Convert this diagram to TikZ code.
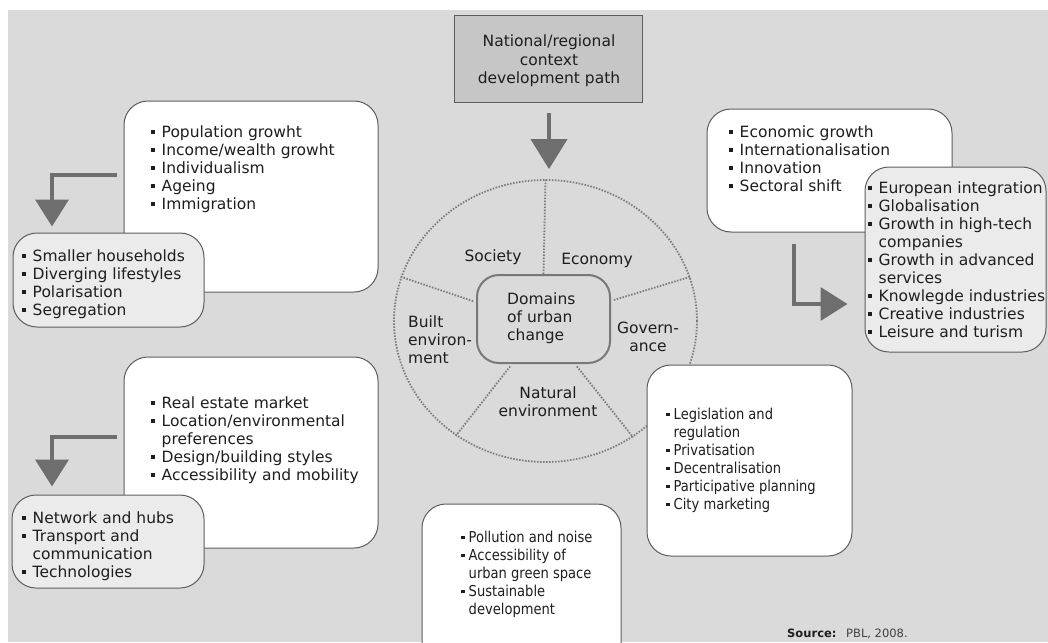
\documentclass[tikz,border=0pt]{standalone}
\usepackage{fontspec}
\setmainfont{DejaVu Sans}
\newfontfamily\condf[FakeStretch=0.97]{DejaVu Sans Condensed}
\usetikzlibrary{arrows.meta,shapes.geometric,calc}
\definecolor{bgc}{HTML}{DADADA}
\definecolor{boxline}{HTML}{5E5E5E}
\definecolor{gfill}{HTML}{EBEBEB}
\definecolor{cfill}{HTML}{C6C6C6}
\definecolor{arrc}{HTML}{6E6E6E}
\definecolor{dotc}{HTML}{7A7A7A}
\definecolor{corec}{HTML}{787878}
\definecolor{txtc}{HTML}{1E1E1E}
\newcommand\bi{\makebox[10.5pt][l]{\raisebox{3.3pt}{\rule{3.6pt}{3.6pt}}}}
\newcommand\ci{\hspace*{10.5pt}}
\newcommand\bic{\makebox[7.5pt][l]{\raisebox{3pt}{\rule{3.3pt}{3.3pt}}}}
\newcommand\cic{\hspace*{7.5pt}}
\tikzset{
  wbox/.style={draw=boxline, fill=white, line width=1pt, rounded corners=24pt, inner sep=0pt},
  gbox/.style={wbox, fill=gfill},
  cbox/.style={draw=boxline, fill=cfill, line width=1pt, inner sep=0pt},
  txt/.style={anchor=base west, inner sep=0pt, text=txtc, font=\fontsize{15.5}{18}\selectfont},
  ctxt/.style={txt, font=\condf\fontsize{15}{18}\selectfont},
  lab/.style={inner sep=0pt, text=txtc, font=\fontsize{15.5}{18}\selectfont},
  bigarrow/.style={draw=arrc, line width=4pt, -{Triangle[width=33pt,length=27pt]}},
  toparrow/.style={draw=arrc, line width=4pt, -{Triangle[width=36pt,length=30pt]}},
  ringsty/.style={ellipse, draw=dotc, line width=1.8pt, dash pattern=on 1.5pt off 1.5pt, inner sep=0pt},
  coresty/.style={draw=corec, line width=2pt, rounded corners=22pt, inner sep=0pt},
  spoke/.style={draw=dotc, line width=1.8pt, dash pattern=on 1.5pt off 1.5pt}
}
\begin{document}
\begin{tikzpicture}[x=1pt,y=-1pt]
\clip (0,0) rectangle (1048,642);
\fill[white] (0,0) rectangle (1048,642);
\fill[bgc] (8,10) rectangle (1048,642);

% central ring
\node[ringsty, minimum width=303pt, minimum height=282pt] (ring) at (545.5,321) {};
\node[coresty, minimum width=133pt, minimum height=88pt] (core) at (543.5,319) {};
\draw[spoke] (core.north) -- (ring.north);
\draw[spoke, shorten <=3pt] (core.166) -- (ring.163.5);
\draw[spoke, shorten <=3pt] (core.15) -- (ring.17);
\draw[spoke, shorten <=3pt] (core.235) -- (ring.232);
\draw[spoke, shorten <=3pt] (core.305) -- (ring.307);
\node[txt] (dom) at (507,304) {\begin{tabular}[t]{@{}l@{}}Domains\\of urban\\change\end{tabular}};
\node[lab] (soc) at (493,257) {Society};
\node[lab] (eco) at (597,260) {Economy};
\node[txt] (blt) at (408,327) {\begin{tabular}[t]{@{}l@{}}Built\\environ-\\ment\end{tabular}};
\node[lab, anchor=base] (gov) at (648,333) {\begin{tabular}[t]{@{}c@{}}Govern-\\ance\end{tabular}};
\node[lab, anchor=base] (nat) at (548,398) {\begin{tabular}[t]{@{}c@{}}Natural\\environment\end{tabular}};

% top context box
\node[cbox, minimum width=188pt, minimum height=86pt] (boxC) at (548,59) {};
\node[lab, anchor=base] (tC) at (549,47) {\begin{tabular}[t]{@{}c@{}}National/regional\\context\\development path\end{tabular}};
\draw[toparrow] ($(boxC.south)+(1,10)$) -- ($(boxC.south |- ring.north)+(1,-10)$);

% society
\node[wbox, minimum width=254pt, minimum height=191pt] (boxA) at (251,196.5) {};
\node[txt] (tA) at (151,137) {\begin{tabular}[t]{@{}l@{}}\bi Population growht\\ \bi Income/wealth growht\\ \bi Individualism\\ \bi Ageing\\ \bi Immigration\end{tabular}};
\node[gbox, minimum width=191pt, minimum height=94pt] (boxB) at (108.5,280) {};
\node[txt] (tB) at (22,261) {\begin{tabular}[t]{@{}l@{}}\bi Smaller households\\ \bi Diverging lifestyles\\ \bi Polarisation\\ \bi Segregation\end{tabular}};
\coordinate (cL1) at (52,175);
\draw[bigarrow] ($(boxA.west |- cL1)+(-7,0)$) -| ($(boxB.north -| cL1)+(0,-6)$);

% built environment
\node[wbox, minimum width=254pt, minimum height=191pt] (boxF) at (251,452.5) {};
\node[txt] (tF) at (151,408) {\begin{tabular}[t]{@{}l@{}}\bi Real estate market\\ \bi Location/environmental\\ \ci preferences\\ \bi Design/building styles\\ \bi Accessibility and mobility\end{tabular}};
\node[gbox, minimum width=192pt, minimum height=93pt] (boxG) at (108,541.5) {};
\node[txt] (tG) at (22,523) {\begin{tabular}[t]{@{}l@{}}\bi Network and hubs\\ \bi Transport and\\ \ci communication\\ \bi Technologies\end{tabular}};
\coordinate (cL2) at (52,437);
\draw[bigarrow] ($(boxF.west |- cL2)+(-7,0)$) -| ($(boxG.north -| cL2)+(0,-8)$);

% economy
\node[wbox, minimum width=245pt, minimum height=123pt] (boxD) at (829.5,170.5) {};
\node[txt] (tD) at (729,137) {\begin{tabular}[t]{@{}l@{}}\bi Economic growth\\ \bi Internationalisation\\ \bi Innovation\\ \bi Sectoral shift\end{tabular}};
\node[gbox, minimum width=181pt, minimum height=185pt] (boxE) at (955.5,259.5) {};
\node[txt] (tE) at (868,193) {\begin{tabular}[t]{@{}l@{}}\bi European integration\\ \bi Globalisation\\ \bi Growth in high-tech\\ \ci companies\\ \bi Growth in advanced\\ \ci services\\ \bi Knowlegde industries\\ \bi Creative industries\\ \bi Leisure and turism\end{tabular}};
\coordinate (cR) at (794,304);
\draw[bigarrow] ($(boxD.south -| cR)+(0,11)$) |- ($(boxE.west |- cR)+(-17,0)$);

% governance
\node[wbox, minimum width=205pt, minimum height=191pt] (boxI) at (749.5,460.5) {};
\node[ctxt] (tI) at (666,419) {\begin{tabular}[t]{@{}l@{}}\bic Legislation and\\ \cic regulation\\ \bic Privatisation\\ \bic Decentralisation\\ \bic Participative planning\\ \bic City marketing\end{tabular}};

% natural environment
\node[wbox, minimum width=199pt, minimum height=176pt] (boxH) at (521.5,592) {};
\node[ctxt] (tH) at (461,542) {\begin{tabular}[t]{@{}l@{}}\bic Pollution and noise\\ \bic Accessibility of\\ \cic urban green space\\ \bic Sustainable\\ \cic development\end{tabular}};

% source
\node[anchor=base west, inner sep=0pt, text=txtc, font=\bfseries\fontsize{11.5}{14}\selectfont] (src) at (787,637) {Source:};
\node[anchor=base west, inner sep=0pt, text=txtc!85, font=\fontsize{11.5}{14}\selectfont] (pbl) at (846,637) {PBL, 2008.};
\end{tikzpicture}
\end{document}
